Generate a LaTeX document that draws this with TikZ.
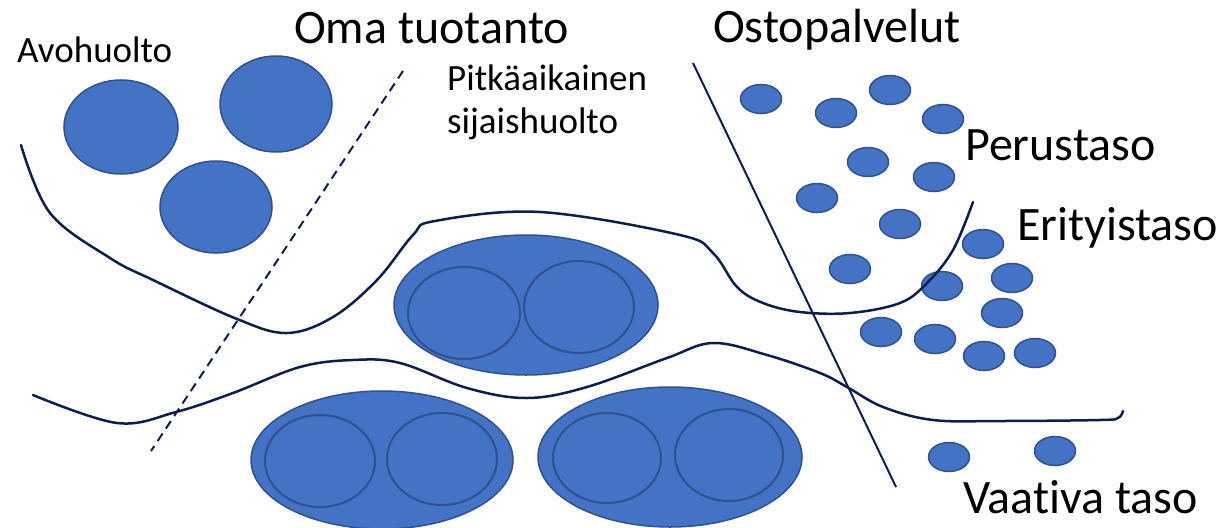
\documentclass[tikz,border=0pt]{standalone}
\usepackage{fontspec}
\setmainfont{Carlito}[Ligatures=NoCommon]
\usetikzlibrary{shapes.geometric}
\definecolor{blobfill}{HTML}{4472C4}
\definecolor{blobline}{HTML}{2F528F}
\definecolor{navy}{HTML}{0B1E4D}
\tikzset{
  blob/.style   = {ellipse, draw=blobline, fill=blobfill, line width=1.5pt, inner sep=0pt},
  ring/.style   = {ellipse, draw=blobline, line width=2pt, inner sep=0pt},
  dot/.style    = {blob, minimum width=41pt, minimum height=29pt},
  border/.style = {draw=navy, line width=2.5pt, line cap=round},
  divider/.style= {draw=navy, line width=2pt},
  big/.style    = {font=\fontsize{48}{58}\selectfont, inner sep=0pt, anchor=base west},
  small/.style  = {font=\fontsize{37}{43}\selectfont, inner sep=0pt, anchor=base west, align=left},
}
\begin{document}
\begin{tikzpicture}[x=1pt, y=-1pt]
\useasboundingbox (0,0) rectangle (1222,527);

% labels
\node[small] (avo)  at (17,63)   {Avohuolto};
\node[big]   (oma)  at (294,44)  {Oma tuotanto};
\node[big]   (osto) at (713,42)  {Ostopalvelut};
\node[small] (pitk) at (447,133) {Pitkäaikainen\\sijaishuolto};
\node[big]   (perus) at (965,160) {Perustaso};
\node[big]   (erit) at (1017,240) {Erityistaso};
\node[big]   (vaat) at (963,513) {Vaativa taso};

% avohuolto
\node[blob, minimum width=114pt, minimum height=94pt] (avo1) at (121,127) {};
\node[blob, minimum width=112pt, minimum height=96pt] (avo2) at (276,104) {};
\node[blob, minimum width=112pt, minimum height=92pt] (avo3) at (216,207) {};

% sijaishuolto
\node[blob, minimum width=264pt, minimum height=140pt] (sija) at (526,305) {};
\node[ring, minimum width=112pt, minimum height=92pt] (sija1) at (464,313) {};
\node[ring, minimum width=110pt, minimum height=92pt] (sija2) at (579,307) {};

\node[blob, minimum width=262pt, minimum height=138pt] (vaa1) at (382,460) {};
\node[ring, minimum width=110pt, minimum height=92pt] (vaa11) at (320,461) {};
\node[ring, minimum width=110pt, minimum height=92pt] (vaa12) at (442,459) {};

\node[blob, minimum width=264pt, minimum height=140pt] (vaa2) at (670,457) {};
\node[ring, minimum width=108pt, minimum height=90pt] (vaa21) at (607,458) {};
\node[ring, minimum width=108pt, minimum height=92pt] (vaa22) at (729,455) {};

% ostopalvelut
\foreach \n/\x/\y in {1/761/99, 2/836/113, 3/890/90, 4/943/119, 5/868/162,
                      6/934/177, 7/817/198, 8/900/224, 9/983/244, 10/850/269,
                      11/1012/278, 12/942/286, 13/1002/313, 14/881/332,
                      15/935/339, 16/984/356, 17/1035/353, 18/949/457, 19/1055/451}
  \node[dot] (dot\n) at (\x,\y) {};

% rajat
\draw[border] plot[smooth, tension=0.6] coordinates {
  (21,145) (50,213) (110,258) (153,280) (237,319) (287,333) (333,317)
  (377,280) (413,235) (435,221) (540,212) (680,235) (713,253) (737,287)
  (763,303) (800,312) (850,313) (900,303) (927,283) (953,250) (973,202)};
\draw[border] plot[smooth, tension=0.6] coordinates {
  (33,395) (117,423) (176,412) (233,393) (300,367) (353,360) (400,363)
  (467,388) (527,398) (587,387) (667,358) (713,343) (767,355) (820,373)
  (847,387) (883,407) (933,420) (1000,421) (1100,420) (1118,418) (1123,411)};

\coordinate (dtop) at (403,71);
\coordinate (dbot) at (151,451);
\draw[divider, dash pattern=on 9pt off 6pt] (dtop) -- (dbot);

\coordinate (otop) at (693,63);
\coordinate (obot) at (896,487);
\draw[divider] (otop) -- (obot);

\end{tikzpicture}
\end{document}
